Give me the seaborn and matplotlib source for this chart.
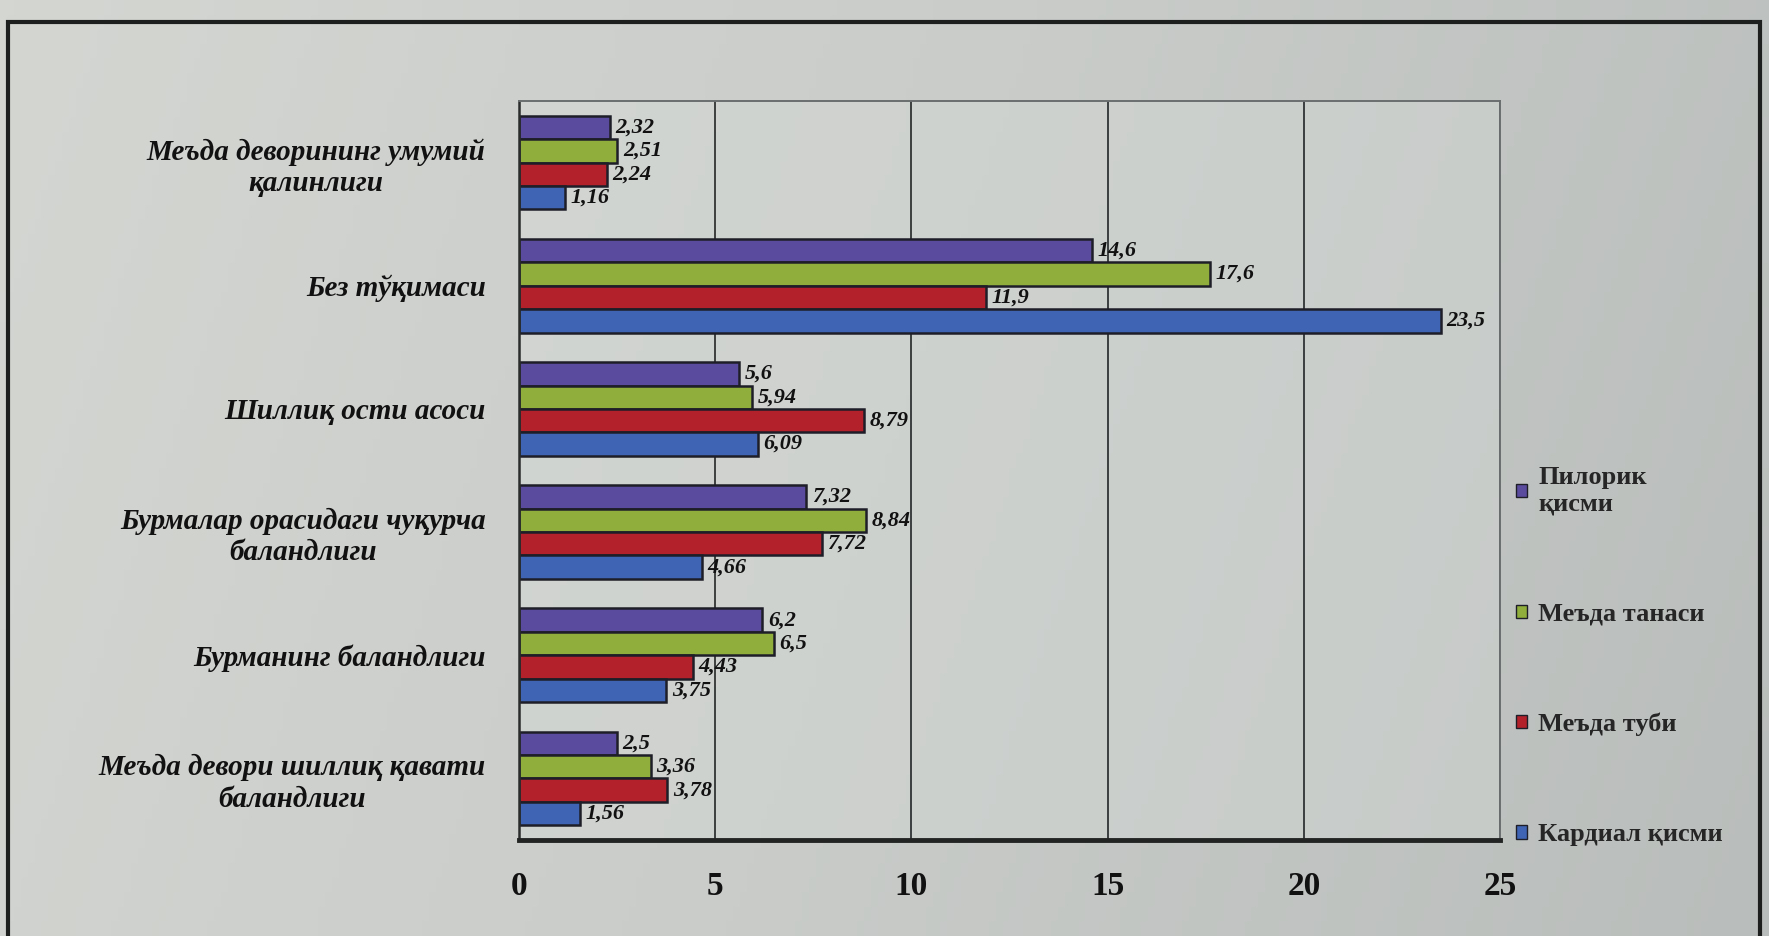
import matplotlib
matplotlib.use("Agg")
import matplotlib.pyplot as plt
import matplotlib.patches as mpatches
from matplotlib.colors import LinearSegmentedColormap
import seaborn as sns
import numpy as np
import pandas as pd

# Layers of the stomach wall, one group of bars per measurement
categories = [
    "Меъда деворининг умумий\nқалинлиги",
    "Без тўқимаси",
    "Шиллиқ ости асоси",
    "Бурмалар орасидаги чуқурча\nбаландлиги",
    "Бурманинг баландлиги",
    "Меъда девори шиллиқ қавати\nбаландлиги",
]
series = ["Пилорик\nқисми", "Меъда танаси", "Меъда туби", "Кардиал қисми"]

pyloric = [2.32, 14.6, 5.6, 7.32, 6.2, 2.5]
body = [2.51, 17.6, 5.94, 8.84, 6.5, 3.36]
fundus = [2.24, 11.9, 8.79, 7.72, 4.43, 3.78]
cardia = [1.16, 23.5, 6.09, 4.66, 3.75, 1.56]

x_ticks = [0, 5, 10, 15, 20, 25]

colors = ["#5b4b9f", "#8fae3b", "#b3222b", "#3e64b3"]

values = [pyloric, body, fundus, cardia]
df = pd.DataFrame(
    [
        {"category": c, "series": s, "value": v}
        for s, vals in zip(series, values)
        for c, v in zip(categories, vals)
    ]
)

sns.set_theme(style="white")
plt.rcParams["font.family"] = ["Liberation Serif", "DejaVu Serif"]

bg = "#c8cbc8"
fig = plt.figure(figsize=(17.69, 9.36), dpi=100, facecolor=bg)

# paper-like shading behind the chart: lighter on the left, darker on the right
bg_ax = fig.add_axes([0, 0, 1, 1], zorder=-10)
shade = LinearSegmentedColormap.from_list("paper", ["#d4d6d2", "#c9ccc9", "#b9bdbb"])
gx = np.linspace(0, 1, 256)
gy = np.linspace(0, 1, 64)[:, None]
bg_ax.imshow(gx[None, :] * 0.85 + gy * 0.15, cmap=shade, aspect="auto",
             extent=[0, 1, 0, 1], vmin=0, vmax=1)
bg_ax.set_axis_off()

ax = fig.add_axes([519 / 1769, 96 / 936, 981 / 1769, 739 / 936])
ax.set_facecolor((0.85, 0.87, 0.86, 0.35))

sns.barplot(
    data=df, y="category", x="value", hue="series",
    order=categories, hue_order=series, palette=colors,
    orient="h", width=0.76, edgecolor="#1e1e28", linewidth=1.8,
    saturation=1, ax=ax, legend=False,
)

for cont, vals in zip(ax.containers, values):
    labels = [str(v).replace(".", ",") for v in vals]
    ax.bar_label(cont, labels=labels, padding=4, fontsize=16,
                 fontweight="bold", fontstyle="italic", color="#111111")

ax.set_xlim(0, 25)
ax.set_xticks(x_ticks)
ax.set_xticklabels([str(t) for t in x_ticks], fontsize=24, fontweight="bold",
                   color="#111111")
ax.tick_params(axis="x", pad=22, length=0)
ax.tick_params(axis="y", pad=24, length=0)
for lbl in ax.get_yticklabels():
    lbl.set_fontsize(21)
    lbl.set_fontweight("bold")
    lbl.set_fontstyle("italic")
    lbl.set_color("#111111")
    lbl.set_multialignment("center")

ax.set_xlabel("")
ax.set_ylabel("")
ax.xaxis.grid(True, color="#3c3f3f", linewidth=1.4)
ax.set_axisbelow(True)

for side in ["top", "right"]:
    ax.spines[side].set_color("#6a6e6e")
    ax.spines[side].set_linewidth(1.4)
ax.spines["left"].set_color("#2a2c2c")
ax.spines["left"].set_linewidth(1.8)
ax.spines["bottom"].set_color("#222424")
ax.spines["bottom"].set_linewidth(3.5)

handles = [mpatches.Patch(facecolor=c, edgecolor="#1e1e28") for c in colors]
fig.legend(
    handles, series, loc="upper left", bbox_to_anchor=(1516 / 1769, 1 - 466 / 936),
    frameon=False, prop={"weight": "bold", "size": 19},
    handlelength=0.4, handleheight=0.4, handletextpad=0.45, labelspacing=3.3,
    borderaxespad=0, borderpad=0,
)

# outer chart frame
frame = mpatches.Rectangle(
    (8 / 1769, -0.05), 1752 / 1769, 0.05 + (936 - 22) / 936,
    transform=fig.transFigure, fill=False, edgecolor="#1d1f1f", linewidth=3,
)
fig.patches.append(frame)

fig.savefig("out.png", dpi=100, facecolor=bg)
